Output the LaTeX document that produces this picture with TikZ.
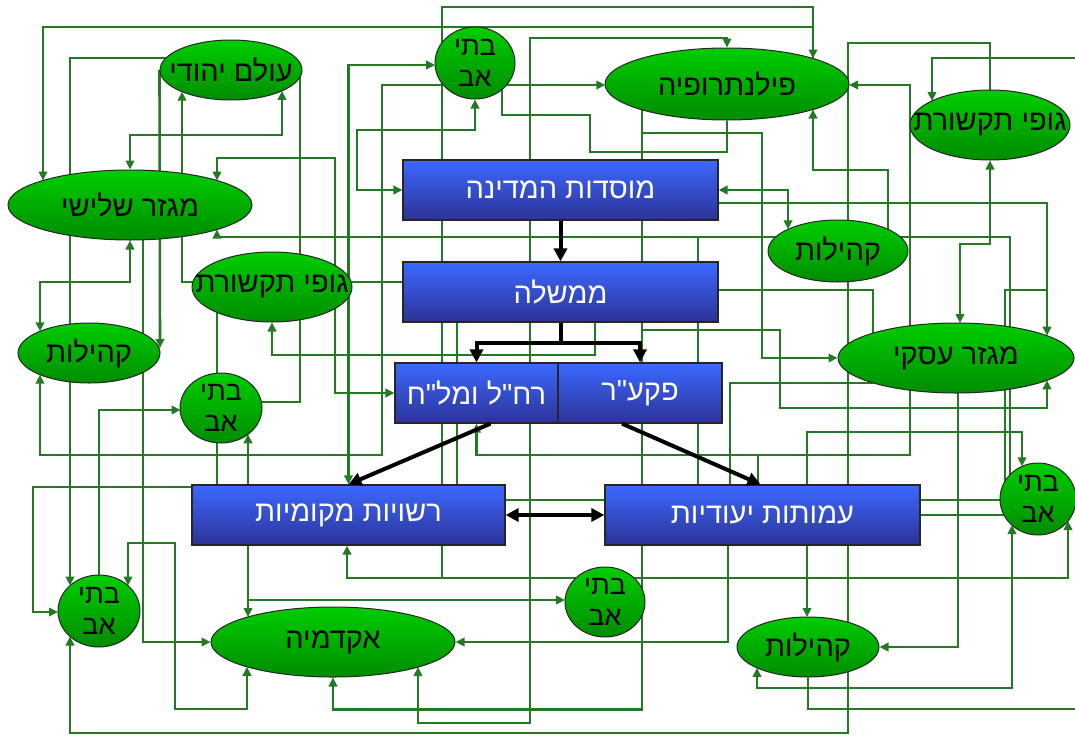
\documentclass[tikz,border=0pt]{standalone}
\usepackage{fontspec}
\newfontfamily\heb[Script=Hebrew]{Liberation Sans}
\TeXXeTstate=1
\usetikzlibrary{shapes.geometric,arrows.meta,calc}
\definecolor{wg}{RGB}{35,122,35}
\definecolor{gtop}{RGB}{0,205,0}
\definecolor{gbot}{RGB}{0,140,0}
\definecolor{btop}{RGB}{60,105,255}
\definecolor{bbot}{RGB}{45,50,150}
\pgfdeclarelayer{bgl}
\pgfdeclarelayer{wires}
\pgfsetlayers{bgl,wires,main}
\begin{document}
\begin{tikzpicture}[x=1pt,y=-1pt,
  >={Triangle[length=9pt,width=8.5pt]},
  gell/.style={ellipse,draw=black!85,line width=1pt,top color=gtop,bottom color=gbot,
    inner xsep=-45pt,inner ysep=-12pt,align=center,text=black,
    font=\heb\fontsize{29}{32}\selectfont},
  gcirc/.style={gell,font=\heb\fontsize{27}{31}\selectfont},
  bbox/.style={rectangle,draw=black!85,line width=1.2pt,top color=btop,bottom color=bbot,
    inner sep=0pt,text=white,font=\heb\fontsize{29}{32}\selectfont},
  gw/.style={draw=wg,line width=2.6pt},
  bline/.style={draw=black,line width=4pt},
  barrow/.style={bline,-{Triangle[length=13pt,width=13pt]}},
  bdbl/.style={bline,{Triangle[length=13pt,width=13pt]}-{Triangle[length=13pt,width=13pt]}}]
\begin{pgfonlayer}{bgl}
\fill[white] (0,0) rectangle (1075,736);
\end{pgfonlayer}
\useasboundingbox (0,0) rectangle (1075,736);

% ---------- blue boxes ----------
\node[bbox,minimum width=315pt,minimum height=60pt] (mos) at (560.5,190) {\beginR מוסדות המדינה\endR};
\node[bbox,minimum width=315pt,minimum height=60pt] (mem) at (560.5,292) {\beginR ממשלה\endR};
\node[bbox,minimum width=163pt,minimum height=60pt] (rhl) at (476.5,393) {\beginR רח"ל ומל"ח\endR};
\node[bbox,minimum width=164pt,minimum height=60pt] (pkr) at (640,393) {\beginR פקע"ר\endR};
\node[bbox,minimum width=313pt,minimum height=60pt] (rsh) at (348.5,515) {\beginR רשויות מקומיות\endR};
\node[bbox,minimum width=315pt,minimum height=60pt] (amt) at (762.5,515) {\beginR עמותות יעודיות\endR};

% ---------- green ellipses ----------
\node[gell,minimum width=142pt,minimum height=60pt] (oy) at (231,70) {\beginR עולם יהודי\endR};
\node[gcirc,minimum width=80pt,minimum height=72pt] (ba1) at (475,63) {\beginR בתי\endR\\\beginR אב\endR};
\node[gell,minimum width=244pt,minimum height=72pt] (phil) at (727,84) {\beginR פילנתרופיה\endR};
\node[gell,minimum width=160pt,minimum height=70pt] (gt1) at (990,125) {\beginR גופי תקשורת\endR};
\node[gell,minimum width=244pt,minimum height=70pt] (mg3) at (130,205) {\beginR מגזר שלישי\endR};
\node[gell,minimum width=140pt,minimum height=62pt] (kh1) at (838,251) {\beginR קהילות\endR};
\node[gell,minimum width=160pt,minimum height=70pt] (gt2) at (272,287) {\beginR גופי תקשורת\endR};
\node[gell,minimum width=142pt,minimum height=60pt] (kh2) at (89,353) {\beginR קהילות\endR};
\node[gcirc,minimum width=82pt,minimum height=70pt] (ba2) at (221,408) {\beginR בתי\endR\\\beginR אב\endR};
\node[gell,minimum width=236pt,minimum height=70pt] (mgE) at (956,358) {\beginR מגזר עסקי\endR};
\node[gcirc,minimum width=76pt,minimum height=72pt] (ba3) at (1038,499) {\beginR בתי\endR\\\beginR אב\endR};
\node[gcirc,minimum width=82pt,minimum height=72pt] (ba4) at (99,611) {\beginR בתי\endR\\\beginR אב\endR};
\node[gell,minimum width=244pt,minimum height=70pt] (akd) at (333,642) {\beginR אקדמיה\endR};
\node[gcirc,minimum width=80pt,minimum height=70pt] (ba5) at (605,602) {\beginR בתי\endR\\\beginR אב\endR};
\node[gell,minimum width=142pt,minimum height=60pt] (kh3) at (808,647) {\beginR קהילות\endR};

\coordinate (edgeR) at (1075,58);
\coordinate (edgeB) at (1075,709);
\coordinate (jA) at (442,578);
\coordinate (jB) at (642,133);
\coordinate (jC) at (642,330);
\coordinate (jD) at (248,600);
\coordinate (jE) at (1047,290);
\coordinate (jF) at (758,455);
\coordinate (jG) at (698,237);

% ---------- green connectors ----------
\begin{pgfonlayer}{wires}
\draw[gw,->] ($(phil)+(86,-25.5)$) |- (43,27) -- ($(mg3)+(-87,-24.5)$);
\draw[gw,<->] ($(rsh.south)+(-1.5,0)$) |- (1068,578) -- ($(ba3)+(30,22)$);
\draw[gw,->] (jA) |- (813,7) -- ($(phil)+(86,-25.5)$);
\draw[gw,->] ($(oy)+(-65,-12)$) -| ($(ba4)+(-29,-25.5)$);
\draw[gw,->] (oy.west) -- ($(kh2)+(71,-5)$);
\draw[gw,->] ($(gt2)+(-79,-5)$) -| ($(oy)+(-49,21.7)$);
\draw[gw,<->] ($(oy)+(51,20.9)$) |- (130,135) -- (mg3.north);
\draw[gw] ($(oy)+(69,7)$) |- ($(ba2)+(40.4,-6)$);
\draw[gw,<->] ($(mg3)+(87,-24.5)$) |- (335,158) |- (rhl.west);
\draw[gw,->] ($(ba3)+(-28,-24.3)$) |- (217,237) -- ($(mg3)+(87,24.5)$);
\draw[gw] (jE) -| ($(ba3)+(-33,-17.9)$);
\draw[gw,<->] ($(ba1)+(-39.9,2)$) -| (rsh.north);
\draw[gw,<->] (mos.west) -| (357,130) -| (ba1.south);
\draw[gw,->] ($(ba1)+(-31.7,22)$) -| (382,455) -| ($(kh2)+(-49,21.7)$);
\draw[gw,->] ($(ba1)+(31.7,22)$) -- ($(phil)+(-121.7,1)$);
\draw[gw] ($(ba1)+(27,26.6)$) |- (590,115) |- (727,152) -- (phil.south);
\draw[gw,<->] ($(akd)+(85,25)$) |- (530,723) |- (727,38) -- (phil.north);
\draw[gw,->] ($(phil)+(-85,25.8)$) |- (780,330) |- (1047,408) -- ($(mgE)+(91,22.3)$);
\draw[gw,->] (jB) -| (762,358) -- (mgE.west);
\draw[gw,->] (jC) |- ($(akd.south)+(0,32)$) -- (akd.south);
\draw[gw,<->] (mos.east) -| ($(kh1)+(-50,-21.7)$);
\draw[gw,->] ($(mos.east)+(0,13)$) -| ($(mgE)+(91,-22.3)$);
\draw[gw,<->] (gt1.south) |- (960,244) -- ($(mgE)+(4,-35)$);
\draw[gw] (gt1.north) |- (848,43) -- ($(kh1)+(10,-30.7)$);
\draw[gw,->] ($(kh1)+(10,30.7)$) |- (70,733) -- ($(ba4)+(-29,25.5)$);
\draw[gw,->] (edgeR) -| ($(gt1)+(-58,-24)$);
\draw[gw,<->] ($(phil)+(122,1)$) -| (910,455) -| (rhl.south);
\draw[gw] (jF) -- ($(amt.north)+(-4.5,0)$);
\draw[gw,<->] ($(kh3)+(-51,20.9)$) |- (1012,688) -- ($(ba3)+(-26,26)$);
\draw[gw,->] ($(kh1)+(50,-21.7)$) |- (813,170) -- ($(phil)+(86,25.5)$);
\draw[gw] ($(gt2)+(79,-5)$) -- (mem.west |- 0,282);
\draw[gw,->] ($(mem.south)+(34.5,0)$) |- (272,355) -- (gt2.south);
\draw[gw,->] (ba4.north) |- ($(ba2)+(-40.5,2)$);
\draw[gw] ($(gt2)+(-55,25.4)$) -- ($(ba2)+(-4,-34.8)$);
\draw[gw] ($(ba2)+(-4,34.8)$) -- (rsh.north -| 217,0);
\draw[gw,<->] ($(ba2)+(27,26.3)$) -- ($(akd)+(-85,-25)$);
\draw[gw,->] (jD) -- ($(ba5)+(-40,-2)$);
\draw[gw,->] ($(rsh.west)+(0,-28)$) -| (33,612) -- ($(ba4)+(-41,1)$);
\draw[gw,<->] ($(ba4)+(29,-25.5)$) |- (175,543) |- (247,709) -- ($(akd)+(-86,24.8)$);
\draw[gw,->] ($(mg3)+(13,34.8)$) |- (akd.west);
\draw[gw,<->] (mg3.south) |- (40,282) -- ($(kh2)+(-49,-21.7)$);
\draw[gw,->] ($(amt.south)+(-34.5,0)$) |- (akd.east);
\draw[gw] ($(mem.south)+(-103.5,0)$) -- ($(rsh.north)+(108.5,0)$);
\draw[gw,<->] ($(kh3)+(-1,-30)$) |- (1022,432) -- ($(ba3)+(-16,-32.7)$);
\draw[gw] ($(amt.north)+(-32.5,0)$) |- ($(mgE)+(-82.6,25)$);
\draw[gw] ($(mem.east)+(0,-2)$) -| ($(mgE)+(-83,-24.9)$);
\draw[gw,->] ($(mgE)+(2,35)$) |- (kh3.east);
\draw[gw] ($(amt.east)+(0,-15)$) -- ($(ba3)+(-38,1)$);
\draw[gw] (amt.east) -- ($(ba3)+(-34,16)$);
\draw[gw] (kh3.south) |- (edgeB);
\draw[gw] ($(amt.north)+(-64.5,0)$) -- (jG);
\draw[gw] ($(rsh.east)+(0,-15)$) -- ($(amt.west)+(0,-15)$);
\end{pgfonlayer}

% ---------- black arrows ----------
\coordinate (jn) at (560.5,343);
\draw[bline] (mem.south) -- (jn);
\draw[barrow] (jn) -| (rhl.north);
\draw[barrow] (jn) -| (pkr.north);
\draw[barrow] (mos.south) -- (mem.north);
\draw[barrow] ($(rhl.south)+(14,0)$) -- (rsh.north);
\draw[barrow] ($(pkr.south)+(-18,0)$) -- ($(amt.north)+(-2,0)$);
\draw[bdbl] (rsh.east) -- (amt.west);
\end{tikzpicture}
\end{document}
